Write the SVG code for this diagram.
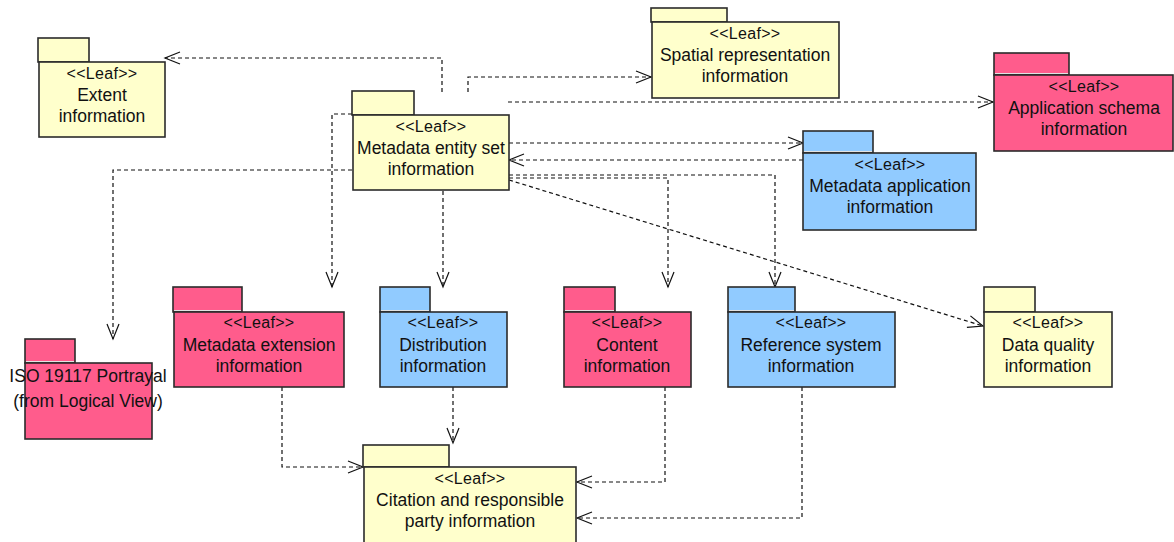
<svg xmlns="http://www.w3.org/2000/svg" width="1174" height="542" viewBox="0 0 1174 542">
  <defs>
    <style>
      .body { stroke: #2b2b2b; stroke-width: 1.6; }
      .tab { stroke: #2b2b2b; stroke-width: 1.6; }
      .yellow { fill: #FFFFCC; }
      .pink { fill: #FF5C8C; }
      .blue { fill: #91CBFF; }
      .sep { stroke: #e2e2e2; stroke-width: 1.2; }
      .st { font-family: "Liberation Sans", Arial, sans-serif; font-size: 16px; letter-spacing: 0.3px; fill: #111; text-anchor: middle; }
      .nm { font-family: "Liberation Sans", Arial, sans-serif; font-size: 17.5px; fill: #111; text-anchor: middle; }
      .dep { fill: none; stroke: #111; stroke-width: 1.2; stroke-dasharray: 4 3; marker-end: url(#open); }
    </style>
    <marker id="open" markerUnits="userSpaceOnUse" markerWidth="20" markerHeight="16" refX="16" refY="7" orient="auto">
      <path d="M1,1 L16,7 L1,13" fill="none" stroke="#111" stroke-width="1.2"/>
    </marker>
  </defs>

  <rect width="1174" height="542" fill="#ffffff"/>

  <!-- dependency connectors -->
  <g id="connectors">
    <path class="dep" d="M442,92 V58 H165"/>
    <path class="dep" d="M468,92 V77 H651"/>
    <path class="dep" d="M508,102 H993"/>
    <path class="dep" d="M509,143 H803"/>
    <path class="dep" d="M803,160 H509"/>
    <path class="dep" d="M509,178 H668 V287"/>
    <path class="dep" d="M509,175 H775 V287"/>
    <path class="dep" d="M509,180 L983,326"/>
    <path class="dep" d="M443,191 V287"/>
    <path class="dep" d="M352,114 H332 V287"/>
    <path class="dep" d="M352,170 H113 V339"/>
    <path class="dep" d="M282,387 V467 H363"/>
    <path class="dep" d="M453,387 V443"/>
    <path class="dep" d="M665,387 V482 H577"/>
    <path class="dep" d="M802,387 V518 H577"/>
  </g>

  <!-- packages -->
  <g id="extent">
    <rect class="tab yellow" x="38" y="38" width="51" height="24"/>
    <rect class="body yellow" x="39" y="62" width="126" height="75"/>
    <text class="st" x="102" y="79">&lt;&lt;Leaf&gt;&gt;</text>
    <text class="nm" x="102" y="101">Extent</text>
    <text class="nm" x="102" y="122">information</text>
  </g>

  <g id="metadata-entity-set">
    <rect class="tab yellow" x="352" y="91" width="62" height="24"/>
    <rect class="body yellow" x="353" y="115" width="156" height="75"/>
    <text class="st" x="431" y="132">&lt;&lt;Leaf&gt;&gt;</text>
    <text class="nm" x="431" y="154">Metadata entity set</text>
    <text class="nm" x="431" y="175">information</text>
  </g>

  <g id="spatial-representation">
    <rect class="tab yellow" x="651" y="8" width="76" height="14"/>
    <rect class="body yellow" x="652" y="22" width="187" height="76"/>
    <text class="st" x="745" y="39">&lt;&lt;Leaf&gt;&gt;</text>
    <text class="nm" x="745" y="61">Spatial representation</text>
    <text class="nm" x="745" y="82">information</text>
  </g>

  <g id="application-schema">
    <rect class="tab pink" x="994" y="53" width="75" height="22"/>
    <line class="sep" x1="995" y1="73.5" x2="1068" y2="73.5"/>
    <rect class="body pink" x="994" y="75" width="179" height="76"/>
    <text class="st" x="1084" y="92">&lt;&lt;Leaf&gt;&gt;</text>
    <text class="nm" x="1084" y="114">Application schema</text>
    <text class="nm" x="1084" y="135">information</text>
  </g>

  <g id="metadata-application">
    <rect class="tab blue" x="803" y="131" width="70" height="22"/>
    <line class="sep" x1="804" y1="151.5" x2="872" y2="151.5"/>
    <rect class="body blue" x="803" y="153" width="173" height="77"/>
    <text class="st" x="890" y="170">&lt;&lt;Leaf&gt;&gt;</text>
    <text class="nm" x="890" y="192">Metadata application</text>
    <text class="nm" x="890" y="213">information</text>
  </g>

  <g id="iso-19117-portrayal">
    <rect class="tab pink" x="25" y="339" width="50" height="24"/>
    <line class="sep" x1="26" y1="361.5" x2="74" y2="361.5"/>
    <rect class="body pink" x="25" y="363" width="127" height="76"/>
    <text class="nm" x="88" y="382">ISO 19117 Portrayal</text>
    <text class="nm" x="88" y="407">(from Logical View)</text>
  </g>

  <g id="metadata-extension">
    <rect class="tab pink" x="173" y="287" width="69" height="25"/>
    <line class="sep" x1="174" y1="310.5" x2="241" y2="310.5"/>
    <rect class="body pink" x="174" y="312" width="170" height="75"/>
    <text class="st" x="259" y="328">&lt;&lt;Leaf&gt;&gt;</text>
    <text class="nm" x="259" y="351">Metadata extension</text>
    <text class="nm" x="259" y="372">information</text>
  </g>

  <g id="distribution">
    <rect class="tab blue" x="380" y="287" width="50" height="25"/>
    <line class="sep" x1="381" y1="310.5" x2="429" y2="310.5"/>
    <rect class="body blue" x="380" y="312" width="127" height="75"/>
    <text class="st" x="443" y="328">&lt;&lt;Leaf&gt;&gt;</text>
    <text class="nm" x="443" y="351">Distribution</text>
    <text class="nm" x="443" y="372">information</text>
  </g>

  <g id="content">
    <rect class="tab pink" x="564" y="287" width="51" height="25"/>
    <line class="sep" x1="565" y1="310.5" x2="614" y2="310.5"/>
    <rect class="body pink" x="564" y="312" width="127" height="75"/>
    <text class="st" x="627" y="328">&lt;&lt;Leaf&gt;&gt;</text>
    <text class="nm" x="627" y="351">Content</text>
    <text class="nm" x="627" y="372">information</text>
  </g>

  <g id="reference-system">
    <rect class="tab blue" x="728" y="287" width="67" height="25"/>
    <line class="sep" x1="729" y1="310.5" x2="794" y2="310.5"/>
    <rect class="body blue" x="728" y="312" width="167" height="75"/>
    <text class="st" x="811" y="328">&lt;&lt;Leaf&gt;&gt;</text>
    <text class="nm" x="811" y="351">Reference system</text>
    <text class="nm" x="811" y="372">information</text>
  </g>

  <g id="data-quality">
    <rect class="tab yellow" x="984" y="287" width="51" height="25"/>
    <rect class="body yellow" x="984" y="312" width="128" height="75"/>
    <text class="st" x="1048" y="328">&lt;&lt;Leaf&gt;&gt;</text>
    <text class="nm" x="1048" y="351">Data quality</text>
    <text class="nm" x="1048" y="372">information</text>
  </g>

  <g id="citation-responsible-party">
    <rect class="tab yellow" x="363" y="445" width="86" height="22"/>
    <rect class="body yellow" x="364" y="467" width="212" height="80"/>
    <text class="st" x="470" y="484">&lt;&lt;Leaf&gt;&gt;</text>
    <text class="nm" x="470" y="506">Citation and responsible</text>
    <text class="nm" x="470" y="527">party information</text>
  </g>
</svg>
